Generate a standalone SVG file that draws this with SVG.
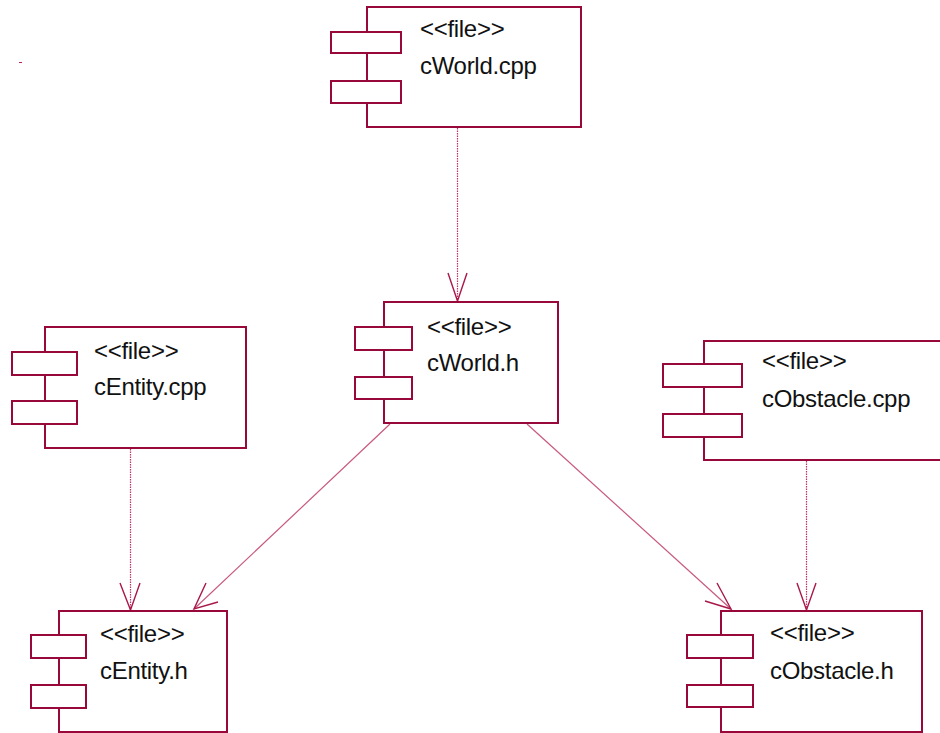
<svg xmlns="http://www.w3.org/2000/svg" width="940" height="733" viewBox="0 0 940 733">
  <style>
    .body { fill: #ffffff; stroke: #99083a; stroke-width: 2; }
    .port { fill: #ffffff; stroke: #99083a; stroke-width: 2; }
    .label { font-family: "Liberation Sans", Arial, sans-serif; font-size: 24px; fill: #111111; letter-spacing: -0.3px; }
    .dep { fill: none; stroke: #c2306a; stroke-width: 1.2; stroke-dasharray: 1.5 1; }
    .link { fill: none; stroke: #c8587e; stroke-width: 1.2; }
    .head { fill: none; stroke: #a8184a; stroke-width: 1.4; }
  </style>
  <rect width="940" height="733" fill="#ffffff"/>

  <!-- stray mark -->
  <line x1="19" y1="62.5" x2="22" y2="62.5" stroke="#c02050" stroke-width="1"/>

  <!-- connectors -->
  <g id="connectors">
    <!-- cWorld.cpp -> cWorld.h -->
    <line class="dep" x1="457.5" y1="128" x2="457.5" y2="301"/>
    <polyline class="head" points="448,273 457.5,301 467,273"/>
    <!-- cEntity.cpp -> cEntity.h -->
    <line class="dep" x1="130.5" y1="449" x2="130.5" y2="610"/>
    <polyline class="head" points="120,583 130.5,610 140,583"/>
    <!-- cObstacle.cpp -> cObstacle.h -->
    <line class="dep" x1="806.5" y1="461" x2="806.5" y2="610"/>
    <polyline class="head" points="797,583 806.5,610 816,583"/>
    <!-- cWorld.h -> cEntity.h -->
    <line class="link" x1="390" y1="424" x2="194" y2="609"/>
    <polyline class="head" points="206,583 194,609 218,602"/>
    <!-- cWorld.h -> cObstacle.h -->
    <line class="link" x1="527" y1="424" x2="731" y2="609"/>
    <polyline class="head" points="717,583 731,609 705,601"/>
  </g>

  <!-- cWorld.cpp -->
  <g id="cWorld_cpp">
    <rect class="body" x="367" y="7" width="214" height="120"/>
    <rect class="port" x="331" y="32" width="70" height="21"/>
    <rect class="port" x="331" y="81" width="70" height="22"/>
    <text class="label" x="420" y="37">&lt;&lt;file&gt;&gt;</text>
    <text class="label" x="420" y="74">cWorld.cpp</text>
  </g>

  <!-- cWorld.h -->
  <g id="cWorld_h">
    <rect class="body" x="384" y="302" width="174" height="121"/>
    <rect class="port" x="355" y="327" width="57" height="23"/>
    <rect class="port" x="355" y="377" width="57" height="22"/>
    <text class="label" x="427" y="335">&lt;&lt;file&gt;&gt;</text>
    <text class="label" x="427" y="371">cWorld.h</text>
  </g>

  <!-- cEntity.cpp -->
  <g id="cEntity_cpp">
    <rect class="body" x="45" y="327" width="201" height="121"/>
    <rect class="port" x="12" y="352" width="65" height="23"/>
    <rect class="port" x="12" y="401" width="65" height="23"/>
    <text class="label" x="94" y="359">&lt;&lt;file&gt;&gt;</text>
    <text class="label" x="94" y="395">cEntity.cpp</text>
  </g>

  <!-- cObstacle.cpp -->
  <g id="cObstacle_cpp">
    <rect class="body" x="704" y="341" width="240" height="119"/>
    <rect class="port" x="663" y="364" width="79" height="23"/>
    <rect class="port" x="663" y="414" width="79" height="23"/>
    <text class="label" x="762" y="369">&lt;&lt;file&gt;&gt;</text>
    <text class="label" x="762" y="407">cObstacle.cpp</text>
  </g>

  <!-- cEntity.h -->
  <g id="cEntity_h">
    <rect class="body" x="59" y="611" width="168" height="121"/>
    <rect class="port" x="31" y="635" width="55" height="23"/>
    <rect class="port" x="31" y="685" width="55" height="23"/>
    <text class="label" x="100" y="642">&lt;&lt;file&gt;&gt;</text>
    <text class="label" x="100" y="679">cEntity.h</text>
  </g>

  <!-- cObstacle.h -->
  <g id="cObstacle_h">
    <rect class="body" x="721" y="611" width="201" height="121"/>
    <rect class="port" x="687" y="635" width="66" height="23"/>
    <rect class="port" x="687" y="685" width="66" height="22"/>
    <text class="label" x="770" y="641">&lt;&lt;file&gt;&gt;</text>
    <text class="label" x="770" y="679">cObstacle.h</text>
  </g>
</svg>
